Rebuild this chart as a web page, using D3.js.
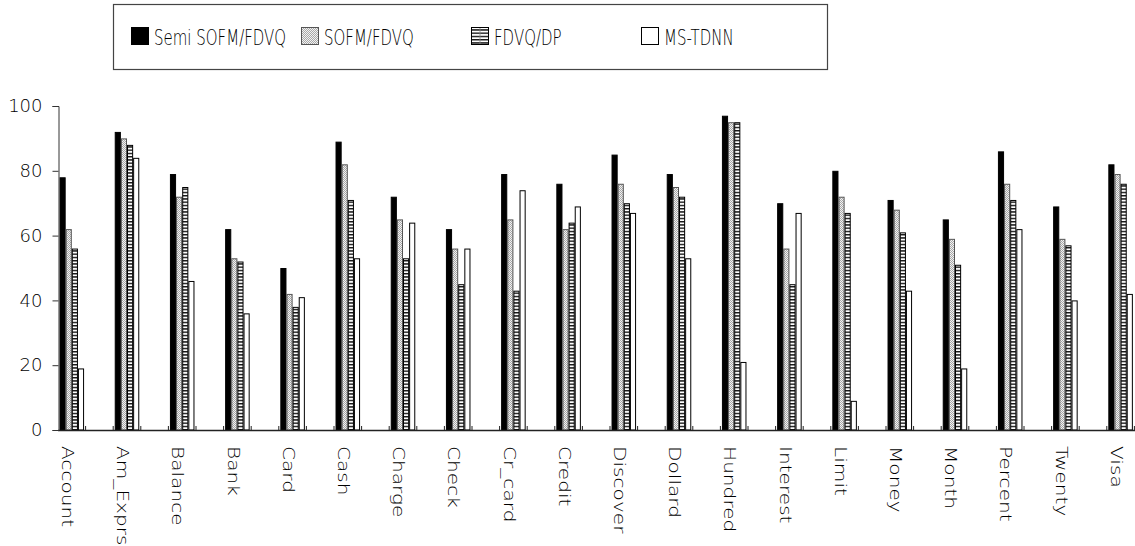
<!DOCTYPE html>
<html>
<head>
<meta charset="utf-8">
<script src="https://cdn.jsdelivr.net/npm/d3@7"></script>
<style>
  html, body { margin: 0; padding: 0; background: #fff; }
  svg { display: block; }
  text { font-family: "DejaVu Sans", sans-serif; font-weight: 200; fill: #000; }
</style>
</head>
<body>
<svg id="chart" width="1135" height="546"></svg>
<script>
const categories = ["Account","Am_Exprs","Balance","Bank","Card","Cash","Charge","Check","Cr_card","Credit",
  "Discover","Dollard","Hundred","Interest","Limit","Money","Month","Percent","Twenty","Visa"];
const seriesNames = ["Semi SOFM/FDVQ","SOFM/FDVQ","FDVQ/DP","MS-TDNN"];
const semiSofmFdvq = [78,92,79,62,50,89,72,62,79,76,85,79,97,70,80,71,65,86,69,82];
const sofmFdvq     = [62,90,72,53,42,82,65,56,65,62,76,75,95,56,72,68,59,76,59,79];
const fdvqDp       = [56,88,75,52,38,71,53,45,43,64,70,72,95,45,67,61,51,71,57,76];
const msTdnn       = [19,84,46,36,41,53,64,56,74,69,67,53,21,67,9,43,19,62,40,42];
const yTicks = [0,20,40,60,80,100];

const seriesValues = [semiSofmFdvq, sofmFdvq, fdvqDp, msTdnn];

const svg = d3.select("#chart");
const defs = svg.append("defs");

// dotted pattern
const pDot = defs.append("pattern").attr("id","dots").attr("patternUnits","userSpaceOnUse")
  .attr("width",2).attr("height",2);
pDot.append("rect").attr("width",2).attr("height",2).attr("fill","#f2f2f2");
pDot.append("rect").attr("x",0).attr("y",0).attr("width",1).attr("height",1).attr("fill","#a8a8a8");
pDot.append("rect").attr("x",1).attr("y",1).attr("width",1).attr("height",1).attr("fill","#a8a8a8");

// horizontal line pattern
const pH = defs.append("pattern").attr("id","hlines").attr("patternUnits","userSpaceOnUse")
  .attr("width",4).attr("height",3.25);
pH.append("rect").attr("width",4).attr("height",3.25).attr("fill","#fff");
pH.append("rect").attr("y",0).attr("width",4).attr("height",1.4).attr("fill","#111");

const styles = [
  {fill:"#000", stroke:"#000"},
  {fill:"url(#dots)", stroke:"#555"},
  {fill:"url(#hlines)", stroke:"#000"},
  {fill:"#fff", stroke:"#000"}
];

const left = 58, groupW = 55.2;
const x = d3.scaleBand().domain(categories).range([left, left + groupW * categories.length]).padding(0);
const half = x.bandwidth() / 2;
const xs = d3.scaleBand().domain(seriesNames).range([0, half]).paddingInner(0).paddingOuter(0.25);
const y = d3.scaleLinear().domain([0,100]).range([430,106]);

// bars
seriesNames.forEach((s, si) => {
  svg.append("g").selectAll("rect").data(categories).join("rect")
    .attr("x", d => x(d) + xs(s) + 0.5)
    .attr("y", (d,i) => y(seriesValues[si][i]) + 0.5)
    .attr("width", xs.bandwidth() - 1)
    .attr("height", (d,i) => y(0) - y(seriesValues[si][i]) - 0.5)
    .attr("fill", styles[si].fill)
    .attr("stroke", styles[si].stroke)
    .attr("stroke-width", 1);
});

// x axis line + inside ticks
const xa = svg.append("g");
xa.append("line").attr("x1", left).attr("x2", 1135).attr("y1", y(0)+0.5).attr("y2", y(0)+0.5)
  .attr("stroke","#222").attr("stroke-width",1.4);
const tickXs = [];
categories.forEach(c => { tickXs.push(x(c)); tickXs.push(x(c) + half); });
xa.selectAll("line.t").data(tickXs.filter(t => t > left)).join("line").attr("class","t")
  .attr("x1", d => d).attr("x2", d => d).attr("y1", y(0)).attr("y2", y(0)-4)
  .attr("stroke","#222").attr("stroke-width",1);

// x labels
xa.selectAll("text").data(categories).join("text")
  .attr("transform", d => `translate(${x(d)+4},446) rotate(90) scale(1.22,1)`)
  .attr("font-size", 16.5)
  .attr("text-anchor","start")
  .text(d => d);

// y axis
const yAxis = d3.axisLeft(y).tickValues(yTicks).tickSize(6).tickPadding(10);
const ya = svg.append("g").attr("transform", `translate(${left+0.5},0)`).call(yAxis);
ya.select(".domain").attr("stroke","#333");
ya.selectAll(".tick line").attr("stroke","#333");
ya.selectAll(".tick text").attr("font-size",18).attr("font-family","DejaVu Sans, sans-serif")
  .attr("font-weight",200).attr("fill","#000");

// legend
const lg = svg.append("g");
lg.append("rect").attr("x",113.5).attr("y",4.5).attr("width",714).attr("height",65)
  .attr("fill","#fff").attr("stroke","#444").attr("stroke-width",1.2);
const legendX = d3.scalePoint().domain(seriesNames).range([131, 641]);
seriesNames.forEach((s, si) => {
  const g = lg.append("g").attr("transform", `translate(${legendX(s)},0)`);
  g.append("rect").attr("x",0.5).attr("y",27.5).attr("width",17).attr("height",17)
    .attr("fill", styles[si].fill).attr("stroke", styles[si].stroke).attr("stroke-width",1);
  if (si === 2) {
    g.append("line").attr("x1",9).attr("x2",9).attr("y1",28).attr("y2",44).attr("stroke","#888").attr("stroke-width",0.8);
  }
  g.append("text").attr("transform","translate(23,45) scale(1,1.4)")
    .attr("font-size",15).text(s);
});
</script>
</body>
</html>
